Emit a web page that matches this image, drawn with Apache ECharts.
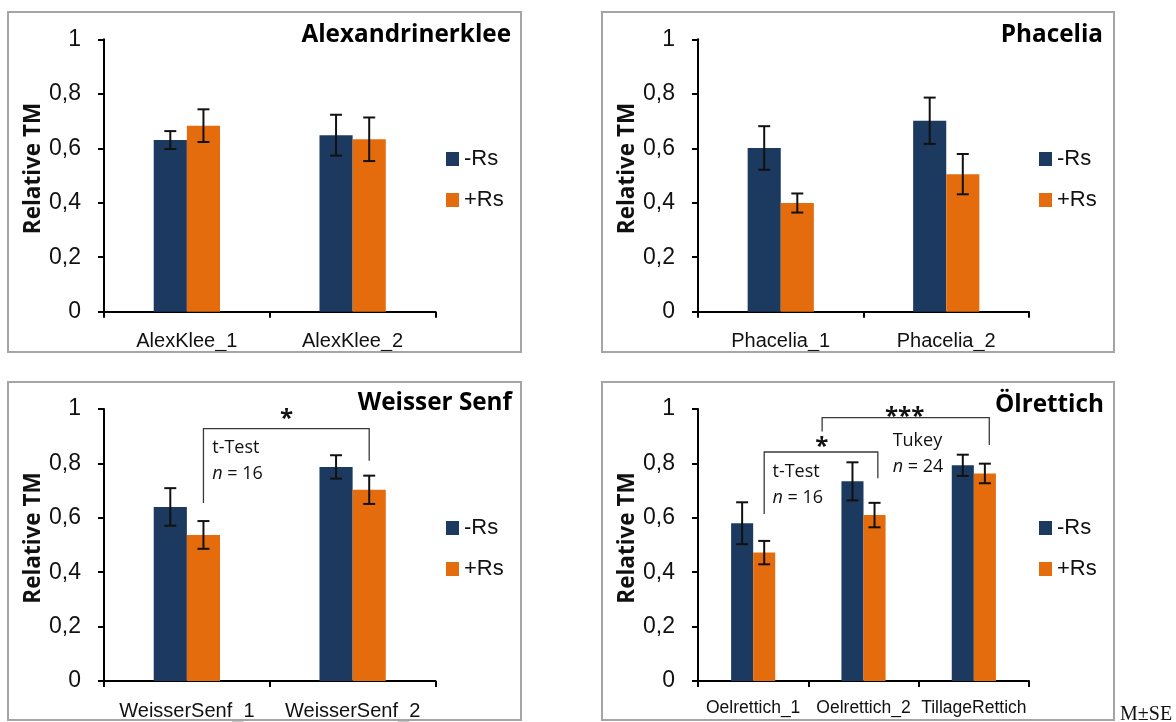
<!DOCTYPE html>
<html>
<head>
<meta charset="utf-8">
<script src="https://cdn.jsdelivr.net/npm/echarts@6/dist/echarts.min.js"></script>
<style>
  html, body { margin: 0; padding: 0; background: #fff; }
  #chart { width: 1176px; height: 722px; }
</style>
</head>
<body>
<div id="chart"></div>
<script>
// ---- data: relative dry matter (TM), mean and standard error ----
const catsAlex = ['AlexKlee_1', 'AlexKlee_2'];
const alexMinus = [0.630, 0.648];
const alexMinusSE = [0.033, 0.075];
const alexPlus = [0.683, 0.633];
const alexPlusSE = [0.060, 0.080];

const catsPhacelia = ['Phacelia_1', 'Phacelia_2'];
const phacMinus = [0.601, 0.701];
const phacMinusSE = [0.080, 0.085];
const phacPlus = [0.399, 0.505];
const phacPlusSE = [0.035, 0.074];

const catsSenf = ['WeisserSenf_1', 'WeisserSenf_2'];
const senfMinus = [0.640, 0.787];
const senfMinusSE = [0.069, 0.043];
const senfPlus = [0.537, 0.703];
const senfPlusSE = [0.051, 0.052];

const catsRettich = ['Oelrettich_1', 'Oelrettich_2', 'TillageRettich'];
const rettMinus = [0.580, 0.734, 0.793];
const rettMinusSE = [0.077, 0.070, 0.039];
const rettPlus = [0.472, 0.610, 0.763];
const rettPlusSE = [0.043, 0.045, 0.036];

const yTicks = [0, 0.2, 0.4, 0.6, 0.8, 1];
const seriesNames = ['-Rs', '+Rs'];
const panelTitles = ['Alexandrinerklee', 'Phacelia', 'Weisser Senf', 'Ölrettich'];

// significance brackets: [category, band offset] for each leg, leg ends and bar height
const brackets = [
  { panel: 2, x1: [0, 0.10], x2: [1, 0.10], y1: 0.654, y2: 0.810, top: 0.928 },
  { panel: 3, x1: [0, 0.10], x2: [1, 0.13], y1: 0.614, y2: 0.745, top: 0.842 },
  { panel: 3, x1: [0, 0.625], x2: [2, 0.14], y1: 0.917, y2: 0.868, top: 0.968 }
];
// annotation texts: panel, [category, band offset], value, text
const notes = [
  { panel: 2, x: [0, 0.602], y: 0.961, text: '*', star: true },
  { panel: 2, x: [0, 0.153], y: 0.858, text: 't-Test' },
  { panel: 2, x: [0, 0.153], y: 0.761, text: '{i|n} = 16' },
  { panel: 3, x: [0, 0.622], y: 0.859, text: '*', star: true },
  { panel: 3, x: [1, 0.373], y: 0.970, text: '***', star: true },
  { panel: 3, x: [1, 0.264], y: 0.883, text: 'Tukey' },
  { panel: 3, x: [1, 0.264], y: 0.786, text: '{i|n} = 24' },
  { panel: 3, x: [0, 0.175], y: 0.769, text: 't-Test' },
  { panel: 3, x: [0, 0.175], y: 0.674, text: '{i|n} = 16' }
];

const panels = [
  { cats: catsAlex, minus: alexMinus, minusSE: alexMinusSE, plus: alexPlus, plusSE: alexPlusSE },
  { cats: catsPhacelia, minus: phacMinus, minusSE: phacMinusSE, plus: phacPlus, plusSE: phacPlusSE },
  { cats: catsSenf, minus: senfMinus, minusSE: senfMinusSE, plus: senfPlus, plusSE: senfPlusSE },
  { cats: catsRettich, minus: rettMinus, minusSE: rettMinusSE, plus: rettPlus, plusSE: rettPlusSE }
];

// ---- layout ----
const NAVY = '#1c3a5f';
const ORANGE = '#e46c0c';
const ARIAL = '"Liberation Sans", Arial, sans-serif';
const SANS = '"Open Sans", Lato, sans-serif';

const grids = [
  { left: 104, top: 39.3, width: 331.5, height: 272.4 },
  { left: 698, top: 39.3, width: 331, height: 272.4 },
  { left: 104, top: 409, width: 331.5, height: 272 },
  { left: 698, top: 409, width: 331, height: 272 }
];
const frames = [
  { x: 8, y: 12, w: 513, h: 340 },
  { x: 602, y: 12, w: 512, h: 340 },
  { x: 8, y: 382, w: 513, h: 338 },
  { x: 602, y: 382, w: 512, h: 338 }
];
const legendPos = [
  { left: 441, top: 143 },
  { left: 1034, top: 143 },
  { left: 441, top: 512 },
  { left: 1034, top: 512 }
];
const titlePos = [
  { right: 511, y: 35 },
  { right: 1103, y: 35 },
  { right: 512, y: 403 },
  { right: 1104, y: 405 }
];

function errorBars(offset) {
  return function (params, api) {
    const x = api.value(0), v = api.value(1), e = api.value(2);
    const hi = api.coord([x, v + e]);
    const lo = api.coord([x, v - e]);
    const band = api.size([1, 0])[0];
    const cx = hi[0] + offset * band;
    const cap = 6;
    const style = { stroke: '#111', lineWidth: 2 };
    return {
      type: 'group',
      children: [
        { type: 'line', shape: { x1: cx, y1: hi[1], x2: cx, y2: lo[1] }, style },
        { type: 'line', shape: { x1: cx - cap, y1: hi[1], x2: cx + cap, y2: hi[1] }, style },
        { type: 'line', shape: { x1: cx - cap, y1: lo[1], x2: cx + cap, y2: lo[1] }, style }
      ]
    };
  };
}

const option = {
  animation: false,
  backgroundColor: '#fff',
  grid: grids.map(g => Object.assign({ containLabel: false }, g)),
  xAxis: panels.map((p, i) => ({
    type: 'category',
    gridIndex: i,
    data: p.cats,
    axisLine: { lineStyle: { color: '#000', width: 2 } },
    axisTick: { show: true, length: 6, lineStyle: { color: '#000', width: 2 } },
    axisLabel: {
      interval: 0, margin: i === 3 ? 18 : 20, color: '#111',
      fontFamily: ARIAL, fontSize: i === 3 ? 17.5 : 20
    },
    splitLine: { show: false }
  })),
  yAxis: panels.map((p, i) => ({
    type: 'value',
    gridIndex: i,
    min: 0, max: 1, interval: 0.2,
    name: 'Relative TM',
    nameLocation: 'middle',
    nameRotate: 90,
    nameGap: 59,
    nameTextStyle: { fontFamily: SANS, fontWeight: 'bold', fontSize: 22.5, color: '#111', padding: [0, 0, 0, 14] },
    axisLine: { show: true, lineStyle: { color: '#000', width: 2 } },
    axisTick: { show: true, length: 6, lineStyle: { color: '#000', width: 2 } },
    axisLabel: {
      margin: 23, color: '#111', fontFamily: ARIAL, fontSize: 23,
      formatter: v => (yTicks.includes(Math.round(v * 10) / 10) ? String(Math.round(v * 10) / 10).replace('.', ',') : '')
    },
    splitLine: { show: false }
  })),
  legend: panels.map((p, i) => ({
    data: seriesNames,
    orient: 'vertical',
    left: legendPos[i].left,
    top: legendPos[i].top,
    itemWidth: 13,
    itemHeight: 14,
    itemGap: 19,
    icon: 'rect',
    selectedMode: false,
    textStyle: { fontFamily: ARIAL, fontSize: 22, color: '#111' }
  })),
  series: []
};

panels.forEach((p, i) => {
  option.series.push({
    name: seriesNames[0], type: 'bar', xAxisIndex: i, yAxisIndex: i,
    data: p.minus, barGap: '0%', barCategoryGap: '60%',
    itemStyle: { color: NAVY }
  });
  option.series.push({
    name: seriesNames[1], type: 'bar', xAxisIndex: i, yAxisIndex: i,
    data: p.plus, barGap: '0%', barCategoryGap: '60%',
    itemStyle: { color: ORANGE }
  });
  option.series.push({
    type: 'custom', xAxisIndex: i, yAxisIndex: i, z: 5,
    renderItem: errorBars(-0.1),
    encode: { x: 0, y: 1 },
    data: p.minus.map((v, k) => [k, v, p.minusSE[k]])
  });
  option.series.push({
    type: 'custom', xAxisIndex: i, yAxisIndex: i, z: 5,
    renderItem: errorBars(0.1),
    encode: { x: 0, y: 1 },
    data: p.plus.map((v, k) => [k, v, p.plusSE[k]])
  });
});

const chart = echarts.init(document.getElementById('chart'), null, { renderer: 'canvas' });
chart.setOption(option);

// ---- frames, titles, brackets and notes ----
function px(panel, catPos, value) {
  const base = chart.convertToPixel({ gridIndex: panel }, [catPos[0], value]);
  const band = grids[panel].width / panels[panel].cats.length;
  return [base[0] + catPos[1] * band, base[1]];
}

const graphics = [];
frames.forEach(f => graphics.push({
  type: 'rect', shape: { x: f.x, y: f.y, width: f.w, height: f.h },
  style: { fill: null, stroke: '#a5a5a5', lineWidth: 2 }, z: 10
}));
titlePos.forEach((t, i) => graphics.push({
  type: 'text', x: t.right, y: t.y,
  style: {
    text: panelTitles[i], fontFamily: SANS, fontWeight: 'bold', fontSize: 24.3,
    fill: '#000', align: 'right', verticalAlign: 'middle'
  }, z: 10
}));
brackets.forEach(b => {
  const a1 = px(b.panel, b.x1, b.y1);
  const a2 = px(b.panel, b.x2, b.y2);
  const yTop = px(b.panel, b.x1, b.top)[1];
  graphics.push({
    type: 'polyline',
    shape: { points: [[a1[0], a1[1]], [a1[0], yTop], [a2[0], yTop], [a2[0], a2[1]]] },
    style: { stroke: '#3a3a3a', lineWidth: 1.3, fill: null }, z: 10
  });
});
notes.forEach(n => {
  const p = px(n.panel, n.x, n.y);
  graphics.push({
    type: 'text', x: p[0], y: p[1],
    style: {
      text: n.text,
      fontFamily: SANS, fontSize: n.star ? 24 : 18, fontWeight: n.star ? 'bold' : 'normal',
      fill: '#111', align: n.star ? 'center' : 'left', verticalAlign: 'middle',
      rich: { i: { fontFamily: SANS, fontStyle: 'italic', fontSize: 18, fill: '#111' } }
    }, z: 10
  });
});
graphics.push({
  type: 'text', x: 1120, y: 705,
  style: { text: 'M±SE', fontFamily: '"Liberation Serif", "DejaVu Serif", serif', fontSize: 20, fill: '#111', verticalAlign: 'top' },
  z: 10
});
chart.setOption({ graphic: graphics });
</script>
</body>
</html>
